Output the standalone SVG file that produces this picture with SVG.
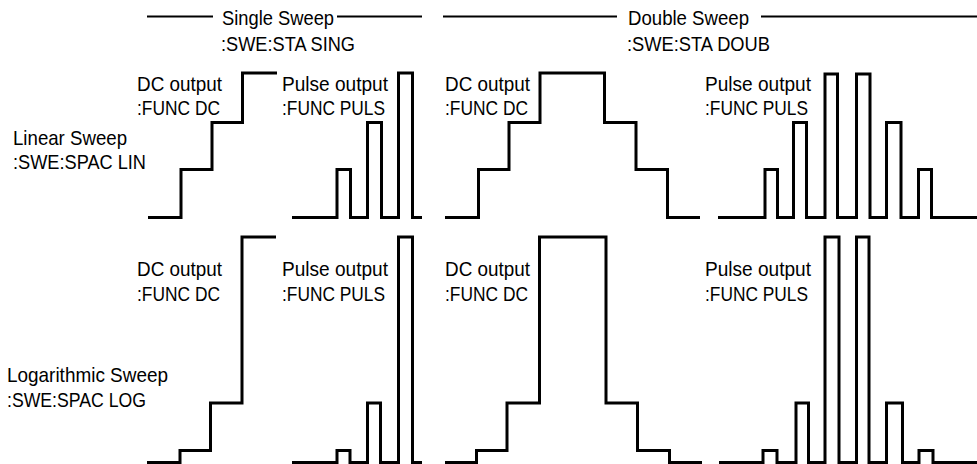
<svg xmlns="http://www.w3.org/2000/svg" width="977" height="464" viewBox="0 0 977 464">
  <style>
    .t { font-family: "Liberation Sans", Arial, sans-serif; font-size: 21px; fill: #000; }
    .hdr { stroke: #000; stroke-width: 2; fill: none; }
    .wave { stroke: #000; stroke-width: 3; fill: none; stroke-linejoin: miter; stroke-linecap: butt; }
  </style>
  <rect width="977" height="464" fill="#fff"/>

  <g id="header-single">
    <line class="hdr" x1="147" y1="16.5" x2="213" y2="16.5"/>
    <line class="hdr" x1="337" y1="16.5" x2="422" y2="16.5"/>
    <text class="t" x="222" y="25" textLength="112" lengthAdjust="spacingAndGlyphs">Single Sweep</text>
    <text class="t" x="221" y="50.5" textLength="134" lengthAdjust="spacingAndGlyphs">:SWE:STA SING</text>
  </g>
  <g id="header-double">
    <line class="hdr" x1="443" y1="16.5" x2="617" y2="16.5"/>
    <line class="hdr" x1="761" y1="16.5" x2="977" y2="16.5"/>
    <text class="t" x="628" y="25" textLength="121" lengthAdjust="spacingAndGlyphs">Double Sweep</text>
    <text class="t" x="627" y="50.5" textLength="143" lengthAdjust="spacingAndGlyphs">:SWE:STA DOUB</text>
  </g>

  <g id="row-linear">
    <text class="t" x="13" y="144.5" textLength="114" lengthAdjust="spacingAndGlyphs">Linear Sweep</text>
    <text class="t" x="13" y="169" textLength="133" lengthAdjust="spacingAndGlyphs">:SWE:SPAC LIN</text>
  </g>
  <g id="row-log">
    <text class="t" x="7" y="382" textLength="161" lengthAdjust="spacingAndGlyphs">Logarithmic Sweep</text>
    <text class="t" x="7" y="407" textLength="139" lengthAdjust="spacingAndGlyphs">:SWE:SPAC LOG</text>
  </g>

  <g id="lin-single-dc">
    <text class="t" x="137" y="90.5" textLength="85" lengthAdjust="spacingAndGlyphs">DC output</text>
    <text class="t" x="137" y="115" textLength="83" lengthAdjust="spacingAndGlyphs">:FUNC DC</text>
    <path class="wave" d="M148,217.5 H181 V169.5 H212 V122.5 H242.5 V73 H277"/>
  </g>
  <g id="lin-single-pulse">
    <text class="t" x="282" y="90.5" textLength="106" lengthAdjust="spacingAndGlyphs">Pulse output</text>
    <text class="t" x="282" y="115" textLength="103" lengthAdjust="spacingAndGlyphs">:FUNC PULS</text>
    <path class="wave" d="M292,217.5 H337 V169.5 H350.5 V217.5 H367.5 V122.5 H381.5 V217.5 H398.5 V73 H412.5 V217.5 H422"/>
  </g>
  <g id="lin-double-dc">
    <text class="t" x="445" y="90.5" textLength="85" lengthAdjust="spacingAndGlyphs">DC output</text>
    <text class="t" x="445" y="115" textLength="83" lengthAdjust="spacingAndGlyphs">:FUNC DC</text>
    <path class="wave" d="M445,217.5 H478.5 V169.5 H509 V122.5 H540 V73 H604.5 V122.5 H636 V169.5 H667.5 V217.5 H700"/>
  </g>
  <g id="lin-double-pulse">
    <text class="t" x="705" y="90.5" textLength="106" lengthAdjust="spacingAndGlyphs">Pulse output</text>
    <text class="t" x="705" y="115" textLength="103" lengthAdjust="spacingAndGlyphs">:FUNC PULS</text>
    <path class="wave" d="M718,217.5 H765 V169.5 H777.5 V217.5 H793.5 V122.5 H806.5 V217.5 H825 V74 H837.5 V217.5 H856.5 V74 H870 V217.5 H886.5 V122.5 H901 V217.5 H918.5 V169.5 H931.5 V217.5 H977"/>
  </g>

  <g id="log-single-dc">
    <text class="t" x="137" y="275.5" textLength="85" lengthAdjust="spacingAndGlyphs">DC output</text>
    <text class="t" x="137" y="301" textLength="83" lengthAdjust="spacingAndGlyphs">:FUNC DC</text>
    <path class="wave" d="M147,462.5 H180 V450.5 H210.5 V403 H242 V237 H276"/>
  </g>
  <g id="log-single-pulse">
    <text class="t" x="282" y="275.5" textLength="106" lengthAdjust="spacingAndGlyphs">Pulse output</text>
    <text class="t" x="282" y="301" textLength="103" lengthAdjust="spacingAndGlyphs">:FUNC PULS</text>
    <path class="wave" d="M292,462.5 H337 V450.5 H350 V462.5 H367.5 V403 H380.5 V462.5 H398.5 V237 H412.5 V462.5 H422"/>
  </g>
  <g id="log-double-dc">
    <text class="t" x="445" y="275.5" textLength="85" lengthAdjust="spacingAndGlyphs">DC output</text>
    <text class="t" x="445" y="301" textLength="83" lengthAdjust="spacingAndGlyphs">:FUNC DC</text>
    <path class="wave" d="M445,462.5 H476.5 V450.5 H507 V403 H539.5 V237 H606 V403 H637.5 V450.5 H669.5 V462.5 H702"/>
  </g>
  <g id="log-double-pulse">
    <text class="t" x="705" y="275.5" textLength="106" lengthAdjust="spacingAndGlyphs">Pulse output</text>
    <text class="t" x="705" y="301" textLength="103" lengthAdjust="spacingAndGlyphs">:FUNC PULS</text>
    <path class="wave" d="M719,462.5 H763 V450.5 H777 V462.5 H796 V403 H808.5 V462.5 H825 V237 H839 V462.5 H856.5 V237 H869 V462.5 H886.5 V403 H902.5 V462.5 H919 V450.5 H933 V462.5 H977"/>
  </g>
</svg>
